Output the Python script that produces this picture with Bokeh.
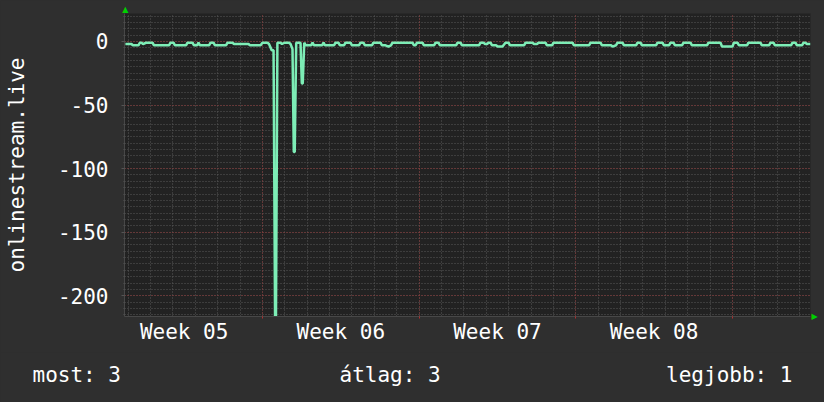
from bokeh.plotting import figure
from bokeh.models import Range1d, FixedTicker, Grid, LinearAxis
from bokeh.core.properties import value
from bokeh.embed import file_html
from bokeh.resources import INLINE

# time in hours since Monday of week 05, value = -rank
hours = [21, 27.5, 29, 35, 36.5, 38.3, 40, 43, 50.1, 51.7, 67.8, 69.4, 72.6, 74.2,
         86, 87.6, 93, 94.6, 97.8, 99.4, 101, 110.7, 112.3, 115.5, 117.1, 128.9,
         130.5, 135.9, 137.5, 153, 154.6, 166, 168, 173.4, 175, 178, 179.9, 181.5,
         182.5, 184, 187.4, 189, 191.6, 196.5, 198.1, 200.2, 201.6, 202.6, 204.2,
         208.8, 210.2, 211.2, 212.8, 214.5, 220.1, 221.7, 223.3, 231.9, 233.5,
         235.1, 244.7, 246.3, 249.5, 251.1, 255.4, 257, 262.4, 264, 271.5, 273.1,
         276.3, 277.9, 285.4, 287, 294.6, 296.2, 300, 303.1, 305.8, 307.4, 328.9,
         330.5, 332.1, 333.7, 339.6, 341.2, 352, 353.6, 356.8, 358.4, 375.6, 377.2,
         380.4, 382, 400.2, 401.8, 405.1, 406.7, 408.8, 410.4, 412.6, 414.2, 418.5,
         420.1, 425.4, 428.6, 431.9, 433.5, 448.5, 450.1, 457.6, 459.2, 462.4, 464,
         471.5, 473.1, 478.5, 480.1, 500.5, 502.1, 518.2, 519.8, 530.5, 532.1,
         541.8, 543.4, 547.1, 548.7, 554.1, 555.7, 568.6, 570.2, 573.4, 575, 590,
         591.6, 597, 598.6, 604, 605.6, 608.8, 610.4, 617.9, 619.5, 627, 628.6,
         644.7, 646.3, 659.2, 660.8, 672, 673.6, 677.4, 679, 687.6, 689.2, 702,
         703.6, 711.2, 712.8, 716, 717.6, 734.8, 736.4, 739.6, 741.2, 746.6, 748.2,
         750.3, 751.9, 755.7]
values = [-2, -2, -3, -3, -1, -1, -2, -1, -1, -3, -3, -1, -1, -3,
          -3, -1, -1, -3, -3, -1, -3, -3, -1, -1, -3, -3,
          -1, -1, -2, -2, -3, -3, -1, -1, -2, -7, -7, -216,
          -216, -1, -1, -2, -1, -1, -2, -6, -87, -87, -1,
          -1, -33, -33, -1, -3, -3, -1, -3, -3, -1,
          -3, -3, -1, -1, -3, -3, -1, -1, -3, -3, -1,
          -1, -3, -3, -1, -1, -3, -3, -4, -3, -1, -1,
          -3, -3, -1, -1, -3, -3, -1, -1, -3, -3, -1,
          -1, -3, -3, -1, -1, -2, -2, -1, -1, -3, -3,
          -4, -4, -1, -1, -3, -3, -1, -1, -2, -2, -1,
          -1, -3, -3, -1, -1, -3, -3, -1, -1, -3,
          -3, -4, -3, -1, -1, -3, -3, -1, -1, -3, -3,
          -1, -1, -3, -3, -1, -1, -3, -3, -1, -1, -3,
          -3, -1, -1, -4, -4, -1, -1, -3, -3, -1, -1,
          -3, -3, -1, -1, -3, -3, -1, -1, -3, -3, -1,
          -1, -2, -2]

week_centers = [84, 252, 420, 588]
week_labels = ["Week 05", "Week 06", "Week 07", "Week 08"]
y_ticks = [0, -50, -100, -150, -200]
y_labels = ["0", "-50", "-100", "-150", "-200"]
legend_texts = ["most: 3", "átlag: 3", "legjobb: 1"]
series_name = "onlinestream.live"

FONT = "DejaVu Sans Mono"
BG = "#2f2f2f"
PLOT_BG = "#222222"
GREEN = "#00d000"

p = figure(width=824, height=352, output_backend="svg", toolbar_location=None,
           x_range=Range1d(20.05, 755.7), y_range=Range1d(-216.3, 22.0),
           background_fill_color=PLOT_BG, border_fill_color=BG,
           min_border_left=124, min_border_right=14, min_border_top=13,
           min_border_bottom=36, outline_line_color=None)
p.title.visible = False
p.grid.visible = False

day_ticks = list(range(24, 756, 24))
week_ticks = list(range(168, 756, 168))
minor_y = list(range(-215, 22, 5))
major_y = list(range(-200, 22, 50))

for dim, ticks, col in [(0, day_ticks, "#595959"), (1, minor_y, "#595959"),
                        (0, week_ticks, "#8c3434"), (1, major_y, "#8c3434")]:
    g = Grid(dimension=dim, ticker=FixedTicker(ticks=ticks),
             grid_line_color=col, grid_line_dash="1 2", grid_line_width=1)
    p.add_layout(g)

p.line(hours, values, line_color="#7dedb6", line_width=2.5)

xa = p.xaxis[0]
xa.ticker = FixedTicker(ticks=week_centers, minor_ticks=week_ticks)
xa.major_label_overrides = {t: l for t, l in zip(week_centers, week_labels)}
xa.major_tick_line_color = None
xa.minor_tick_line_color = "#b03030"
xa.major_tick_out = 0
xa.major_tick_in = 0
xa.minor_tick_out = 2
xa.minor_tick_in = 0
xa.major_label_standoff = 1
xa.axis_line_color = "#484848"
xa.major_label_text_font = FONT
xa.major_label_text_font_size = "21px"
xa.major_label_text_color = "white"

ya = p.yaxis[0]
ya.ticker = FixedTicker(ticks=y_ticks, minor_ticks=minor_y)
ya.major_label_overrides = {t: l for t, l in zip(y_ticks, y_labels)}
ya.major_tick_out = 3
ya.major_tick_in = 0
ya.minor_tick_out = 1
ya.minor_tick_in = 0
ya.major_tick_line_color = "#555555"
ya.minor_tick_line_color = "#555555"
ya.major_label_standoff = 13
ya.axis_line_color = "#484848"
ya.major_label_text_font = FONT
ya.major_label_text_font_size = "21px"
ya.major_label_text_color = "white"
ya.axis_label = series_name
ya.axis_label_text_font = FONT
ya.axis_label_text_font_size = "21px"
ya.axis_label_text_font_style = "normal"
ya.axis_label_text_color = "white"
ya.axis_label_standoff = 26

# arrow heads at the ends of the axes (drawn as single-label axes)
top_arrow = LinearAxis(ticker=FixedTicker(ticks=[21]), major_label_overrides={21: "▲"},
                       axis_line_color=None, major_tick_line_color=None,
                       minor_tick_line_color=None, major_tick_out=0, major_tick_in=0,
                       major_label_standoff=0, major_label_text_font="DejaVu Sans",
                       major_label_text_font_size="8px", major_label_text_color=GREEN)
p.add_layout(top_arrow, "above")
right_arrow = LinearAxis(ticker=FixedTicker(ticks=[-216]), major_label_overrides={-216: "▶"},
                         axis_line_color=None, major_tick_line_color=None,
                         minor_tick_line_color=None, major_tick_out=0, major_tick_in=0,
                         major_label_standoff=1, major_label_text_font="DejaVu Sans",
                         major_label_text_font_size="8px", major_label_text_color=GREEN)
p.add_layout(right_arrow, "right")

# legend row (GPRINT lines) below the graph, as a separate root (no frame alignment)
p2 = figure(width=824, height=50, output_backend="svg", toolbar_location=None,
            x_range=Range1d(0, 824), y_range=Range1d(402, 352),
            x_axis_location=None, y_axis_location=None,
            background_fill_color=BG, border_fill_color=BG, outline_line_color=None,
            min_border=0)
p2.title.visible = False
p2.grid.visible = False
p2.text(x=[32, 339], y=[374, 374], text=legend_texts[:2], text_font=value(FONT),
        text_font_size="21px", text_color="white", text_align="left",
        text_baseline="alphabetic")
p2.text(x=[792], y=[374], text=legend_texts[2:], text_font=value(FONT),
        text_font_size="21px", text_color="white", text_align="right",
        text_baseline="alphabetic")

html = file_html([p, p2], INLINE, title="onlinestream.live")
html = html.replace("</head>", "<style>body{background:%s;}</style></head>" % BG, 1)
open("out.html", "w").write(html)
